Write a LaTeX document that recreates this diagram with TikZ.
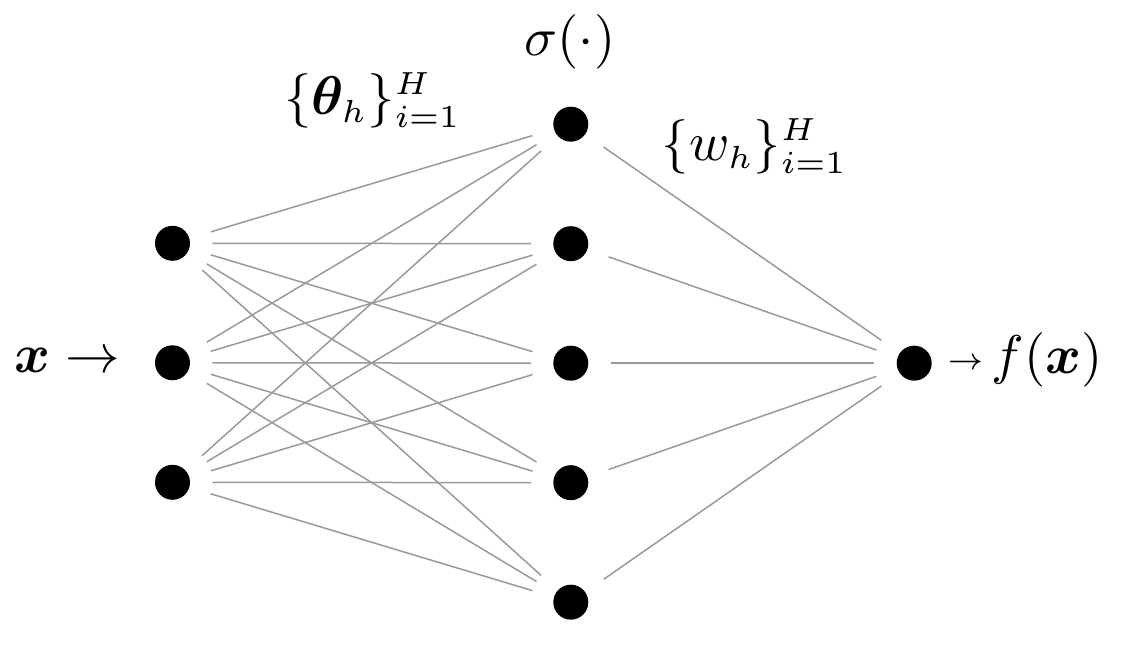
\RequirePackage{fix-cm}
\documentclass[tikz,border=0pt]{standalone}
\usepackage{amsmath,bm}
\DeclareMathSizes{10.9}{10.9}{6.4}{5}
\begin{document}
\begin{tikzpicture}[x=0.2pt,y=-0.2pt, font=\fontsize{10.9}{13}\selectfont,
  neuron/.style={circle, minimum size=15.6pt, inner sep=0pt,
    path picture={\fill (path picture bounding box.center) circle (3.5pt);}},
  conn/.style={draw=gray!80, line width=0.3pt},
  lbl/.style={inner sep=0pt}]
\useasboundingbox (0,0) rectangle (1124,661);
% input layer
\node[neuron] (i1) at (172.5,243.3) {};
\node[neuron] (i2) at (172.5,362.8) {};
\node[neuron] (i3) at (172.5,482.3) {};
% hidden layer
\node[neuron] (h1) at (570.8,124.2) {};
\node[neuron] (h2) at (570.8,243.7) {};
\node[neuron] (h3) at (570.8,363.2) {};
\node[neuron] (h4) at (570.8,482.7) {};
\node[neuron] (h5) at (570.8,602.2) {};
% output
\node[neuron] (o) at (914.2,363.2) {};
% connections
\foreach \i in {1,2,3}{
  \foreach \h in {1,...,5}{
    \draw[conn] (i\i) -- (h\h);
  }
}
\foreach \h in {1,...,5}{
  \draw[conn] (h\h) -- (o);
}
% labels
\node[lbl, anchor=base east] (xin) at (121,373) {$\bm{x} \rightarrow$};
\node[lbl, anchor=base, font=\fontsize{6}{7}\selectfont] (arr) at (966,369.5) {$\rightarrow$};
\node[lbl, anchor=base west] (fx) at (991,374) {$f(\bm{x})$};
\node[lbl, anchor=base] (sig) at (570,56) {$\sigma(\cdot)$};
\node[lbl, anchor=base west] (theta) at (283,114.5) {$\{\bm{\theta}_h\}_{i=1}^H$};
\node[lbl, anchor=base west] (w) at (661,160.5) {$\{w_h\}_{i=1}^H$};
\end{tikzpicture}
\end{document}
